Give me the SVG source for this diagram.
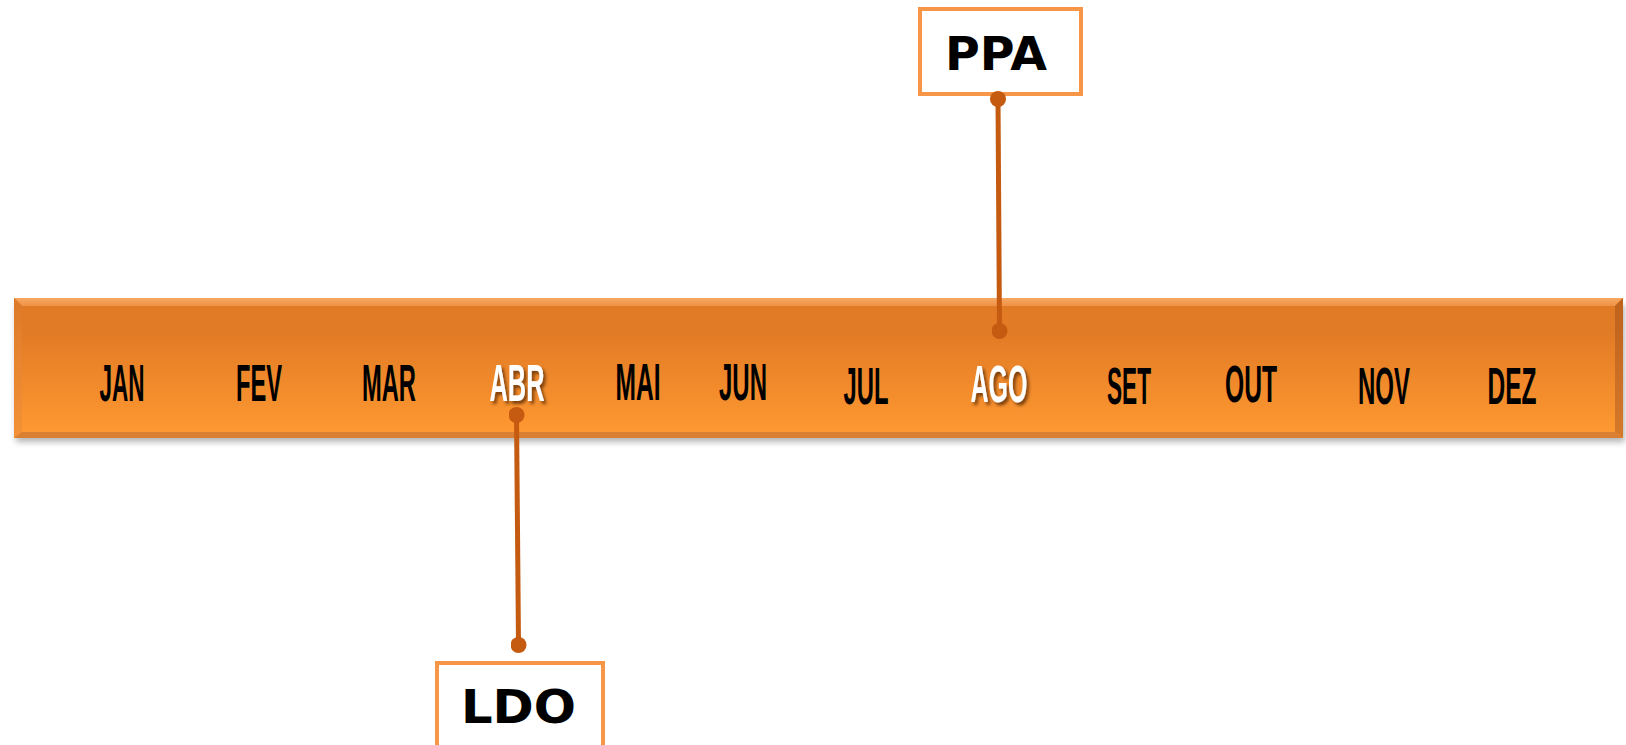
<svg xmlns="http://www.w3.org/2000/svg" width="1626" height="745" viewBox="0 0 1626 745">
<defs>
<linearGradient id="barFill" x1="0" y1="0" x2="0" y2="1">
<stop offset="0" stop-color="#E17A24"/>
<stop offset="0.25" stop-color="#E27B25"/>
<stop offset="1" stop-color="#FF9A32"/>
</linearGradient>
<linearGradient id="topBevel" x1="0" y1="0" x2="0" y2="1">
<stop offset="0" stop-color="#F7A862"/>
<stop offset="1" stop-color="#EF9144"/>
</linearGradient>
<linearGradient id="leftBevel" x1="0" y1="0" x2="0" y2="1">
<stop offset="0" stop-color="#DD7A2A"/>
<stop offset="1" stop-color="#F39238"/>
</linearGradient>
<linearGradient id="rightBevel" x1="0" y1="0" x2="0" y2="1">
<stop offset="0" stop-color="#BD611C"/>
<stop offset="1" stop-color="#D57A2A"/>
</linearGradient>
<filter id="barShadow" x="-5%" y="-20%" width="110%" height="150%">
<feGaussianBlur stdDeviation="3"/>
</filter>
<filter id="txtShadow" x="-20%" y="-20%" width="140%" height="150%">
<feDropShadow dx="2.5" dy="3" stdDeviation="1.5" flood-color="#5a2a00" flood-opacity="0.75"/>
</filter>
<marker id="dot" viewBox="0 0 10 10" refX="5" refY="5" markerWidth="3.2" markerHeight="3.2" markerUnits="strokeWidth">
<circle cx="5" cy="5" r="5" fill="#C55A11"/>
</marker>
</defs>
<style>
.month{font-family:"Liberation Sans",Arial,sans-serif;font-size:51px;font-weight:bold;fill:#000;text-anchor:middle}
.hl{fill:#fff;filter:url(#txtShadow)}
.box{fill:#fff;stroke:#F79646;stroke-width:4}
.lbl{font-family:"DejaVu Sans",Verdana,sans-serif;font-weight:bold;font-size:46px;fill:#000;text-anchor:middle}
.conn{stroke:#C55A11;stroke-width:5;fill:none;marker-start:url(#dot);marker-end:url(#dot)}
</style>

<g id="timeline">
<rect x="16" y="305" width="1609" height="137" fill="#777" opacity="0.55" filter="url(#barShadow)"/>
<rect x="14" y="298" width="1609" height="140" fill="url(#barFill)"/>
<polygon points="14,298 1623,298 1615,306 22,306" fill="url(#topBevel)"/>
<polygon points="14,298 22,306 22,432 14,438" fill="url(#leftBevel)"/>
<polygon points="1623,298 1623,438 1615,432 1615,306" fill="url(#rightBevel)"/>
<polygon points="14,438 1623,438 1615,432 22,432" fill="#DA8033"/>
</g>

<g id="months">
<text class="month" x="122" y="401" textLength="45" lengthAdjust="spacingAndGlyphs">JAN</text>
<text class="month" x="259" y="401" textLength="46" lengthAdjust="spacingAndGlyphs">FEV</text>
<text class="month" x="389" y="401" textLength="54" lengthAdjust="spacingAndGlyphs">MAR</text>
<text class="month hl" x="517" y="401" textLength="55" lengthAdjust="spacingAndGlyphs">ABR</text>
<text class="month" x="638" y="400" textLength="45" lengthAdjust="spacingAndGlyphs">MAI</text>
<text class="month" x="743" y="400" textLength="48" lengthAdjust="spacingAndGlyphs">JUN</text>
<text class="month" x="866" y="404" textLength="45" lengthAdjust="spacingAndGlyphs">JUL</text>
<text class="month hl" x="999" y="402" textLength="57" lengthAdjust="spacingAndGlyphs">AGO</text>
<text class="month" x="1129" y="404" textLength="44" lengthAdjust="spacingAndGlyphs">SET</text>
<text class="month" x="1251" y="402" textLength="52" lengthAdjust="spacingAndGlyphs">OUT</text>
<text class="month" x="1384" y="404" textLength="52" lengthAdjust="spacingAndGlyphs">NOV</text>
<text class="month" x="1512" y="404" textLength="49" lengthAdjust="spacingAndGlyphs">DEZ</text>
</g>

<g id="node-ppa">
<rect class="box" x="920" y="9" width="161" height="85"/>
<text class="lbl" x="996" y="70" textLength="102" lengthAdjust="spacingAndGlyphs">PPA</text>
</g>

<g id="node-ldo">
<rect class="box" x="437" y="663" width="166" height="90"/>
<text class="lbl" x="518.5" y="723" textLength="115" lengthAdjust="spacingAndGlyphs">LDO</text>
</g>

<g id="connectors">
<line class="conn" x1="998" y1="99" x2="999.5" y2="331"/>
<line class="conn" x1="516.5" y1="415" x2="518.5" y2="645"/>
</g>
</svg>
